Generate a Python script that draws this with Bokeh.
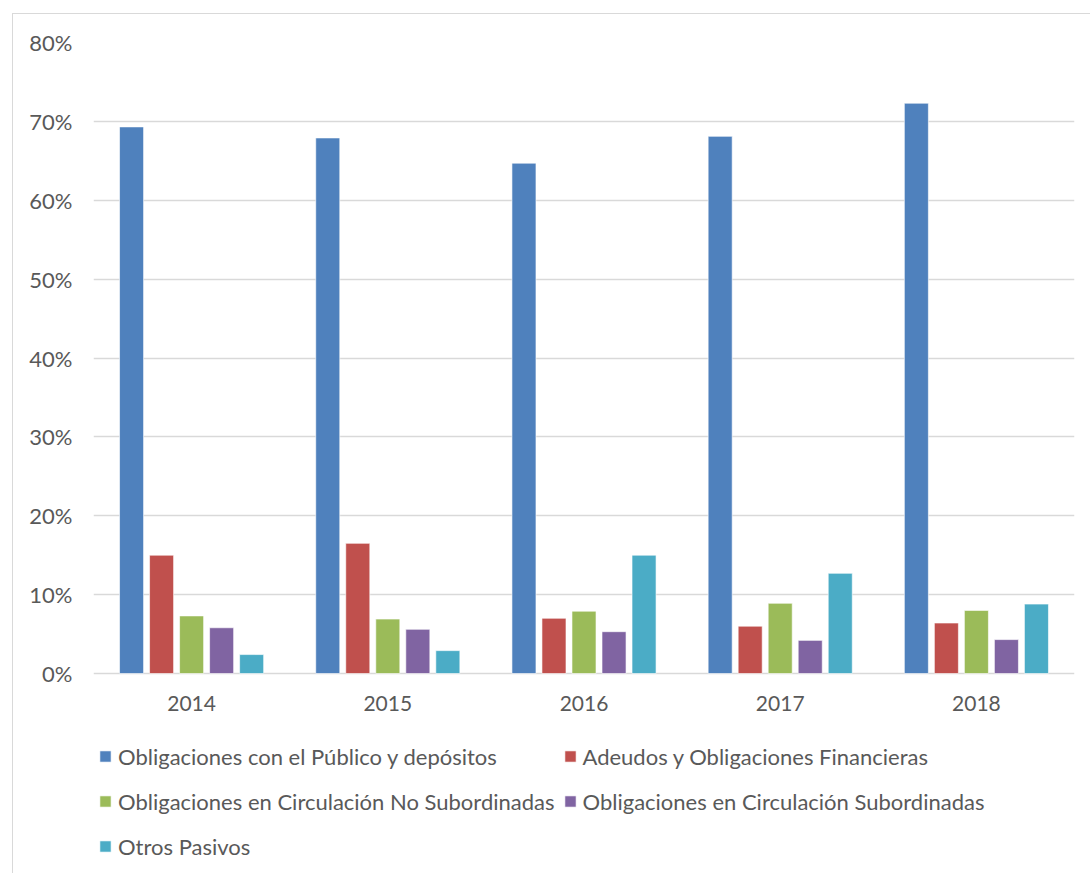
from bokeh.plotting import figure
from bokeh.models import (FactorRange, Range1d, Legend, LegendItem, FixedTicker,
                          PrintfTickFormatter, ColumnDataSource)
from bokeh.core.properties import value
from bokeh.transform import dodge
from bokeh.embed import file_html
from bokeh.resources import INLINE

# Share of total liabilities by component (%)
years = ["2014", "2015", "2016", "2017", "2018"]
publico = [69.3, 67.9, 64.7, 68.1, 72.3]
adeudos = [15.0, 16.5, 7.0, 6.0, 6.4]
circ_no_subord = [7.3, 6.9, 7.9, 8.9, 8.0]
circ_subord = [5.8, 5.6, 5.3, 4.2, 4.3]
otros = [2.4, 2.9, 15.0, 12.7, 8.8]

series_names = [
    "Obligaciones con el Público y depósitos",
    "Adeudos y Obligaciones Financieras",
    "Obligaciones en Circulación No Subordinadas",
    "Obligaciones en Circulación Subordinadas",
    "Otros Pasivos",
]
y_ticks = [0, 10, 20, 30, 40, 50, 60, 70, 80]

colors = ["#4f81bd", "#c0504d", "#9bbb59", "#8064a2", "#4bacc6"]
FONT = "Lato"
TEXT = "#595959"

source = ColumnDataSource(dict(
    year=years, s0=publico, s1=adeudos, s2=circ_no_subord, s3=circ_subord, s4=otros,
))

# the plot frame runs down to the bottom edge so the category labels and the
# legend can sit below the zero line without being clipped
H, TOP = 860, 28
ZERO_PX = 659            # zero line, measured from the top of the figure
span = 80 * (H - TOP) / (ZERO_PX - TOP)

p = figure(
    width=1078, height=H,
    x_range=FactorRange(*years, range_padding=0),
    y_range=Range1d(80 - span, 80),
    output_backend="svg", toolbar_location=None,
    min_border_left=80, min_border_right=17, min_border_top=TOP, min_border_bottom=0,
    outline_line_color=None, background_fill_color="white", border_fill_color="white",
)
# thin frame around the chart area
p.styles = {
    "margin-left": "12px", "margin-top": "13px",
    "border-left": "1px solid #d9d9d9", "border-top": "1px solid #d9d9d9",
}

step = 0.153
bar_w = 0.1225
items = []
for i, (name, col) in enumerate(zip(series_names, colors)):
    r = p.vbar(x=dodge("year", (i - 2) * step, range=p.x_range), top=f"s{i}",
               width=bar_w, source=source, fill_color=col,
               line_color="white", line_alpha=0.6, line_width=1)
    items.append(LegendItem(label=name, renderers=[r]))

# category labels under the zero line
p.text(x="year", y=0, text="year", source=source, y_offset=30,
       text_align="center", text_baseline="middle",
       text_font=value(FONT), text_font_size="21px", text_color=TEXT)
p.xaxis.visible = False

# value axis
p.yaxis.ticker = FixedTicker(ticks=y_ticks)
p.yaxis.formatter = PrintfTickFormatter(format="%d%%")
ax = p.yaxis[0]
ax.axis_line_color = None
ax.major_tick_line_color = None
ax.minor_tick_line_color = None
ax.major_label_text_font = FONT
ax.major_label_text_font_size = "22px"
ax.major_label_text_color = TEXT
ax.major_label_standoff = 15

p.xgrid.grid_line_color = None
p.ygrid.grid_line_color = "#d9d9d9"
p.ygrid.grid_line_width = 1.7

legend = Legend(items=items, ncols=2, orientation="horizontal", location=(5, 9.5),
                label_text_font=FONT, label_text_font_size="22px", label_text_color=TEXT,
                glyph_width=14, glyph_height=14, label_standoff=6, spacing=8,
                label_height=37, padding=0, margin=0,
                border_line_color=None, background_fill_alpha=0)
p.add_layout(legend, "center")

open("out.html", "w").write(file_html(p, INLINE))
